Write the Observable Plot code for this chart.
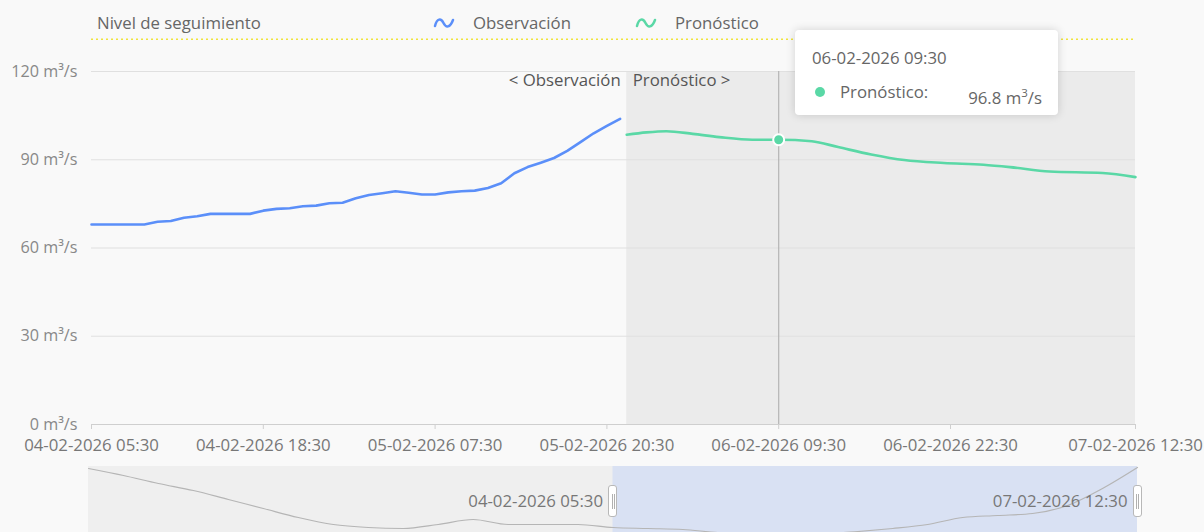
<!DOCTYPE html>
<html>
<head>
<meta charset="utf-8">
<script src="https://cdn.jsdelivr.net/npm/d3@7"></script>
<script src="https://cdn.jsdelivr.net/npm/@observablehq/plot@0.6"></script>
<style>
  html, body { margin: 0; padding: 0; background: #f9f9f9; overflow: hidden; }
  #wrap { position: relative; width: 1204px; height: 532px; overflow: hidden; background: #f9f9f9;
          font-family: "Open Sans", "Noto Sans", sans-serif; color: #666; }
  .abs { position: absolute; white-space: nowrap; }
  .leg { font-size: 16.8px; color: #666; line-height: 20px; }
  #tip { position: absolute; left: 795px; top: 30px; width: 263px; height: 85px; background: #fff;
         border-radius: 4px; box-shadow: 0 0 10px rgba(0,0,0,0.16); }
  .handle { position: absolute; width: 9px; height: 32px; background: #fff; border: 1px solid #b8b8b8;
            border-radius: 3px; box-sizing: border-box; }
  .handle::before, .handle::after { content: ""; position: absolute; top: 8px; width: 1px; height: 15px; background: #b0b0b0; }
  .handle::before { left: 2.5px; } .handle::after { left: 4.5px; }
</style>
</head>
<body>
<div id="wrap">
  <div id="main" class="abs" style="left:0;top:0"></div>
  <div id="slider" class="abs" style="left:0;top:466px"></div>
  <div class="abs leg" style="left:97px;top:13px">Nivel de seguimiento</div>
  <svg class="abs" style="left:433px;top:16px" width="22" height="14"><path d="M2,10 C4,2 8,2 10.5,7 S17,12 20,4" fill="none" stroke="#5B8FF9" stroke-width="2.5" stroke-linecap="round"/></svg>
  <div class="abs leg" style="left:473px;top:13px">Observación</div>
  <svg class="abs" style="left:635px;top:16px" width="22" height="14"><path d="M2,10 C4,2 8,2 10.5,7 S17,12 20,4" fill="none" stroke="#5AD8A6" stroke-width="2.5" stroke-linecap="round"/></svg>
  <div class="abs leg" style="left:675px;top:13px">Pronóstico</div>
  <div id="tip">
    <div class="abs" style="left:17px;top:16px;font-size:16.8px;color:#666">06-02-2026 09:30</div>
    <div class="abs" style="left:20px;top:57px;width:10px;height:10px;border-radius:5px;background:#5AD8A6"></div>
    <div class="abs" style="left:45px;top:50px;font-size:16.8px;color:#666">Pronóstico:</div>
    <div class="abs" style="right:16px;top:55px;font-size:16.8px;color:#666">96.8 m<sup style="font-size:11.5px">3</sup>/s</div>
  </div>
</div>
<script>
// ---- data ----
const xStart = "2026-02-04T05:30";
const xEnd = "2026-02-07T12:30";
const xTickLabels = ["2026-02-04T05:30", "2026-02-04T18:30", "2026-02-05T07:30", "2026-02-05T20:30",
                     "2026-02-06T09:30", "2026-02-06T22:30", "2026-02-07T12:30"];
const yTicks = [0, 30, 60, 90, 120];
const thresholdLevel = [131];

const obsStart = "2026-02-04T05:30"; // hourly observations
const obsValues = [68, 68, 68, 68, 68, 68.9, 69.2, 70.3, 70.8, 71.6, 71.6, 71.6, 71.6, 72.7, 73.3, 73.5,
                   74.2, 74.4, 75.2, 75.4, 76.9, 78.0, 78.6, 79.3, 78.8, 78.2, 78.2, 78.9, 79.3, 79.5,
                   80.4, 82.0, 85.4, 87.5, 89.0, 90.6, 93.0, 96.0, 99.0, 101.5, 103.9];

const fcTimes = ["2026-02-05T22:00", "2026-02-05T23:30", "2026-02-06T01:00", "2026-02-06T03:00",
                 "2026-02-06T05:00", "2026-02-06T07:30", "2026-02-06T09:30", "2026-02-06T12:00",
                 "2026-02-06T14:00", "2026-02-06T16:30", "2026-02-06T19:00", "2026-02-06T22:00",
                 "2026-02-07T01:00", "2026-02-07T03:00", "2026-02-07T06:00", "2026-02-07T10:00",
                 "2026-02-07T12:30"];
const fcValues = [98.5, 99.3, 99.7, 98.8, 97.7, 96.8, 96.8, 96.3, 94.3, 91.8, 89.9, 88.9, 88.3, 87.5,
                  86.0, 85.5, 84.1];

const tooltipTime = "2026-02-06T09:30";
const tooltipValue = 96.8;

// data zoom shadow (full history, equally spaced samples) and selected window (sample indices)
const shadowValues = [68, 61, 53, 46, 37, 28, 19, 12, 9, 8, 12, 17, 12, 12, 12, 9, 8, 7, 4, 3, 3, 3,
                      5, 8, 12, 19, 21, 23, 31, 48, 69];
const zoomWindow = [15, 30];
const zoomLabels = ["04-02-2026 05:30", "07-02-2026 12:30"];

// ---- build ----
const parse = d3.timeParse("%Y-%m-%dT%H:%M");
const fmt = d3.timeFormat("%d-%m-%Y %H:%M");
const blue = "#5B8FF9", green = "#5AD8A6";
const FS = 16.8;

const t0 = parse(obsStart);
const obs = obsValues.map((v, i) => ({t: d3.timeHour.offset(t0, i), v}));
const fc = fcTimes.map((s, i) => ({t: parse(s), v: fcValues[i]}));
const fcSpan = [{x1: fc[0].t, x2: fc[fc.length - 1].t}];
const tipPt = [{t: parse(tooltipTime), v: tooltipValue}];

const main = Plot.plot({
  width: 1204, height: 460,
  marginLeft: 91, marginRight: 69, marginTop: 71, marginBottom: 36,
  style: {background: "transparent", fontFamily: "'Open Sans', 'Noto Sans', sans-serif", fontSize: FS + "px", color: "#777"},
  x: {type: "time", domain: [parse(xStart), parse(xEnd)]},
  y: {domain: [0, 120]},
  marks: [
    Plot.rect(fcSpan, {x1: "x1", x2: "x2", y1: 0, y2: 120, fill: "#ebebeb"}),
    Plot.gridY(yTicks.filter(d => d > 0), {stroke: "#e0e0e0", strokeOpacity: 1, strokeWidth: 1.2}),
    Plot.ruleY([0], {stroke: "#cfcfcf", strokeWidth: 1.2}),
    Plot.ruleY(thresholdLevel, {stroke: "#efe43a", strokeDasharray: "2,3", strokeWidth: 1.5}),
    Plot.ruleX(tipPt, {x: "t", y1: 0, y2: 120, stroke: "#b4b4b4", strokeWidth: 1.2}),
    Plot.line(obs, {x: "t", y: "v", stroke: blue, strokeWidth: 2.6}),
    Plot.line(fc, {x: "t", y: "v", stroke: green, strokeWidth: 2.6, curve: "monotone-x"}),
    Plot.dot(tipPt, {x: "t", y: "v", r: 5.5, fill: green, stroke: "white", strokeWidth: 2}),
    Plot.text(fcSpan, {x: "x1", y: 120, text: () => "< Observación", textAnchor: "end", dx: -6, dy: 9, fill: "#555", fontSize: FS}),
    Plot.text(fcSpan, {x: "x1", y: 120, text: () => "Pronóstico >", textAnchor: "start", dx: 6, dy: 9, fill: "#555", fontSize: FS}),
    Plot.axisX({ticks: xTickLabels.map(parse), tickFormat: fmt, tickSize: 5, tickPadding: 10, stroke: "#cfcfcf", fill: "#777", label: null}),
    Plot.axisY({ticks: yTicks, tickFormat: d => `${d} m³/s`, tickSize: 0, tickPadding: 14, fill: "#888", fontSize: 16.2, label: null})
  ]
});
document.getElementById("main").appendChild(main);

const shadow = shadowValues.map((v, i) => ({i, v}));
const sl = Plot.plot({
  width: 1204, height: 70,
  marginLeft: 88, marginRight: 67, marginTop: 0, marginBottom: 0,
  style: {background: "transparent", fontFamily: "'Open Sans', 'Noto Sans', sans-serif", fontSize: FS + "px"},
  x: {domain: [0, shadowValues.length - 1], axis: null},
  y: {domain: [0, 70], axis: null},
  marks: [
    Plot.rect([0], {x1: 0, x2: shadowValues.length - 1, y1: 0, y2: 70, fill: "#efefef"}),
    Plot.rect([zoomWindow], {x1: d => d[0], x2: d => d[1], y1: 0, y2: 70, fill: "#d9e1f3"}),
    Plot.line(shadow, {x: "i", y: "v", stroke: "#b5b5b5", strokeWidth: 1.2, curve: "monotone-x"}),
    Plot.text(zoomWindow, {x: d => d, text: (d, i) => zoomLabels[i], textAnchor: "end", dx: -10, frameAnchor: "middle", fill: "#777", fontSize: FS})
  ]
});
document.getElementById("slider").appendChild(sl);

const sx = sl.scale("x");
for (const w of zoomWindow) {
  const h = document.createElement("div");
  h.className = "handle";
  h.style.left = (sx.apply(w) - 4.5) + "px";
  h.style.top = (466 + 19) + "px";
  document.getElementById("wrap").appendChild(h);
}
</script>
</body>
</html>
